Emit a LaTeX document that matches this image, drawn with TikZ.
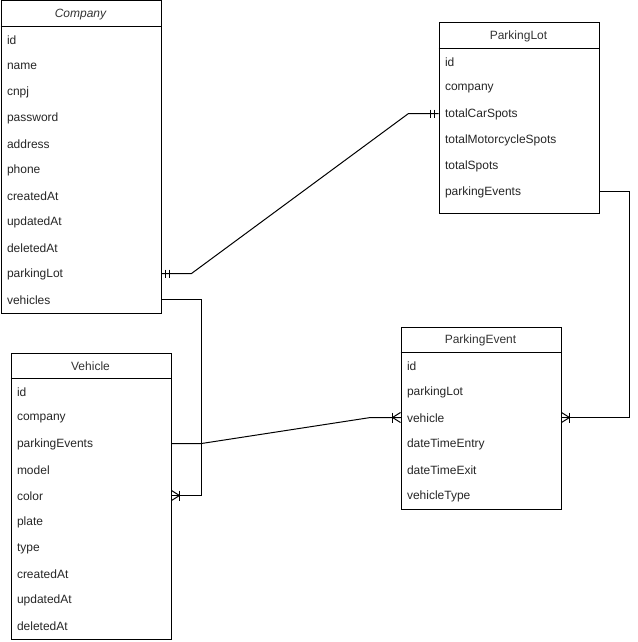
\documentclass[tikz,border=0pt]{standalone}
\usepackage{fontspec}
\setmainfont{Liberation Sans}
\begin{document}
\begin{tikzpicture}[x=1pt,y=-1pt,line width=1pt,
  ent/.style={draw,rectangle,anchor=north west,inner sep=0pt,minimum width=160pt},
  hdr/.style={anchor=center,inner sep=0pt,font=\fontsize{12}{14}\selectfont,text=black!80},
  rowtxt/.style={anchor=west,inner sep=0pt,font=\fontsize{12}{14}\selectfont,text=black!85},
  conn/.style={draw,line width=1pt},
  crowmany/.pic={\draw (0,-5) -- (8,0) -- (0,5); \draw (0,0) -- (8,0); \draw (8,-5) -- (8,5);},
  mandone/.pic={\draw (4,-4) -- (4,4); \draw (8,-4) -- (8,4);}]
\useasboundingbox (0,0) rectangle (637,642);

% Company
\node[ent,minimum height=312pt] (company) at (0.5,0.5) {};
\draw ([yshift=-26pt]company.north west) -- ([yshift=-26pt]company.north east);
\node[hdr,font=\fontsize{12}{14}\selectfont\itshape] (company-h) at (80.5,14.5) {Company};
\foreach \n [count=\i from 0] in {id,name,cnpj,password,address,phone,createdAt,updatedAt,deletedAt,parkingLot,vehicles}
  \node[rowtxt] (c-\n) at (6.5,{40.5+26*\i}) {\n};

% ParkingLot
\node[ent,minimum height=190pt] (plot) at (438.5,22.5) {};
\draw ([yshift=-26pt]plot.north west) -- ([yshift=-26pt]plot.north east);
\node[hdr] (plot-h) at (518.5,36.5) {ParkingLot};
\foreach \n [count=\i from 0] in {id,company,totalCarSpots,totalMotorcycleSpots,totalSpots,parkingEvents}
  \node[rowtxt] (p-\n) at (444.5,{62.5+26*\i}) {\n};

% ParkingEvent
\node[ent,minimum height=182pt] (pevent) at (400.5,326.5) {};
\draw ([yshift=-26pt]pevent.north west) -- ([yshift=-26pt]pevent.north east);
\node[hdr] (pevent-h) at (480.5,340.5) {ParkingEvent};
\foreach \n [count=\i from 0] in {id,parkingLot,vehicle,dateTimeEntry,dateTimeExit,vehicleType}
  \node[rowtxt] (e-\n) at (406.5,{366.5+26*\i}) {\n};

% Vehicle
\node[ent,minimum height=286pt] (vehicle) at (10.5,352.5) {};
\draw ([yshift=-26pt]vehicle.north west) -- ([yshift=-26pt]vehicle.north east);
\node[hdr] (vehicle-h) at (90.5,366.5) {Vehicle};
\foreach \n [count=\i from 0] in {id,company,parkingEvents,model,color,plate,type,createdAt,updatedAt,deletedAt}
  \node[rowtxt] (v-\n) at (16.5,{392.5+26*\i}) {\n};

% connector attachment points (row centres on the box edges)
\coordinate (c-plot-end) at (company.east |- 0,273.5);
\coordinate (p-comp-end) at (plot.west |- 0,113.5);
\coordinate (c-veh-end) at (company.east |- 0,299.5);
\coordinate (v-comp-end) at (vehicle.east |- 0,495.5);
\coordinate (v-pe-end) at (vehicle.east |- 0,443.5);
\coordinate (e-veh-west) at (pevent.west |- 0,417.5);
\coordinate (e-veh-east) at (pevent.east |- 0,417.5);
\coordinate (p-pe-end) at (plot.east |- 0,191.5);

% Company.parkingLot -- ParkingLot
\draw[conn] (c-plot-end) -- ++(30,0) -- ([xshift=-30pt]p-comp-end) -- (p-comp-end);
\pic at (c-plot-end) {mandone};
\pic[xscale=-1] at (p-comp-end) {mandone};

% Company.vehicles -- Vehicle
\draw[conn] (c-veh-end) -- ++(40,0) |- (v-comp-end);
\pic at (v-comp-end) {crowmany};

% Vehicle.parkingEvents -- ParkingEvent.vehicle
\draw[conn] (v-pe-end) -- ++(30,0) -- ([xshift=-30pt]e-veh-west) -- (e-veh-west);
\pic[xscale=-1] at (e-veh-west) {crowmany};

% ParkingLot.parkingEvents -- ParkingEvent
\draw[conn] (p-pe-end) -- ++(30,0) |- (e-veh-east);
\pic at (e-veh-east) {crowmany};
\end{tikzpicture}
\end{document}
